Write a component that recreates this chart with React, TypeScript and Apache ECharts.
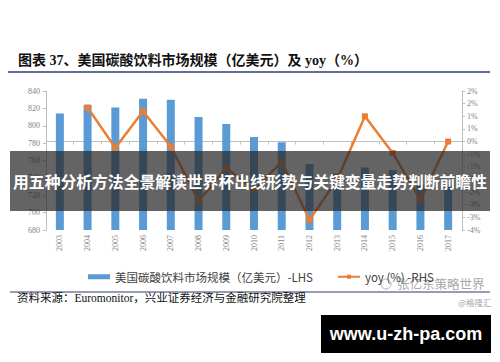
import React, { useEffect, useRef } from "react";
import * as echarts from "echarts";

const years = ["2003", "2004", "2005", "2006", "2007", "2008", "2009", "2010", "2011", "2012", "2013", "2014", "2015", "2016", "2017"];
const marketSize = [814, 824, 821, 831, 830, 810, 802, 787, 781, 756, 745, 752, 749, 732, 732];
const yoy: (number | null)[] = [null, 1.35, -0.25, 1.2, -0.2, -2.35, -1.05, -1.9, -0.8, -3.1, -1.5, 1.0, -0.45, -2.3, 0.0];

const leftTicks = { min: 680, max: 840, interval: 20 };
const rightTicks = { min: -3.5, max: 2, interval: 0.5 };

const titleText = "图表 37、美国碳酸饮料市场规模（亿美元）及 yoy（%）";
const barName = "美国碳酸饮料市场规模（亿美元）-LHS";
const lineName = "yoy (%) -RHS";
const sourceText = "资料来源：Euromonitor，兴业证券经济与金融研究院整理";
const bannerText = "用五种分析方法全景解读世界杯出线形势与关键变量走势判断前瞻性";
const siteText = "www.u-zh-pa.com";
const watermark1 = "张亿东策略世界";
const watermark2 = "@格隆汇";

const pctFmt = (v: number) => {
  const r = Math.sign(v) * Math.round(Math.abs(v) + 1e-9);
  return (r === 0 ? 0 : r) + "%";
};

export default function App() {
  const ref = useRef<HTMLDivElement>(null);
  useEffect(() => {
    if (!ref.current) return;
    const chart = echarts.init(ref.current, null, { renderer: "svg" });
    const axisLabelStyle = { color: "#7f7f7f", fontSize: 8, fontFamily: "Liberation Serif, serif" };
    const axisLineStyle = { lineStyle: { color: "#bfbfbf", width: 1 } };
    chart.setOption({
      animation: false,
      backgroundColor: "#ffffff",
      grid: { left: 46, right: 38, top: 91, bottom: 132, containLabel: false },
      legend: {
        left: 83,
        top: 266,
        itemWidth: 22,
        itemHeight: 5,
        itemGap: 24,
        textStyle: { color: "#404040", fontSize: 11.5, fontFamily: "Noto Sans CJK SC" },
        data: [
          { name: barName, icon: "rect" },
          { name: lineName },
        ],
      },
      xAxis: {
        type: "category",
        data: years,
        boundaryGap: true,
        axisLine: axisLineStyle,
        axisTick: { show: true, length: 3, lineStyle: { color: "#bfbfbf" } },
        axisLabel: { ...axisLabelStyle, rotate: 90, margin: 5, interval: 0 },
      },
      yAxis: [
        {
          type: "value",
          min: leftTicks.min,
          max: leftTicks.max,
          interval: leftTicks.interval,
          axisLine: { show: true, ...axisLineStyle },
          axisTick: { show: true, length: 3, lineStyle: { color: "#bfbfbf" } },
          splitLine: { show: false },
          axisLabel: { ...axisLabelStyle, margin: 6 },
        },
        {
          type: "value",
          position: "right",
          min: rightTicks.min,
          max: rightTicks.max,
          interval: rightTicks.interval,
          axisLine: { show: true, ...axisLineStyle },
          axisTick: { show: true, length: 3, lineStyle: { color: "#bfbfbf" } },
          splitLine: { show: false },
          axisLabel: { ...axisLabelStyle, margin: 5, formatter: pctFmt },
        },
      ],
      series: [
        {
          name: barName,
          type: "bar",
          data: marketSize,
          barWidth: 8,
          itemStyle: { color: "#5B9BD5" },
          yAxisIndex: 0,
        },
        {
          name: lineName,
          type: "line",
          data: yoy,
          yAxisIndex: 1,
          symbol: "rect",
          symbolSize: 6,
          lineStyle: { color: "#ED7D31", width: 2.5 },
          itemStyle: { color: "#ED7D31" },
        },
      ],
      graphic: [
        {
          type: "text",
          left: 18,
          top: 53,
          style: { text: titleText, fontSize: 14, fontWeight: "bold", fill: "#111111", fontFamily: "Liberation Serif, Noto Sans CJK SC" },
        },
        { type: "line", shape: { x1: 8, y1: 72, x2: 490, y2: 72 }, style: { stroke: "#2f3b73", lineWidth: 1.5 } },
        { type: "line", shape: { x1: 10, y1: 292, x2: 490, y2: 292 }, style: { stroke: "#2f3b73", lineWidth: 1.2 } },
        {
          type: "text",
          left: 17,
          top: 292,
          style: { text: sourceText, fontSize: 11.5, fill: "#111111", fontFamily: "Liberation Serif, Noto Sans CJK SC" },
        },
        { type: "circle", shape: { cx: 386, cy: 284, r: 5 }, style: { fill: "none", stroke: "#b0b0b0", lineWidth: 1 } },
        {
          type: "text",
          left: 397,
          top: 277,
          style: { text: watermark1, fontSize: 12.5, fill: "#a8a8a8", fontFamily: "Noto Sans CJK SC" },
        },
        {
          type: "text",
          left: 458,
          top: 298,
          style: { text: watermark2, fontSize: 8.5, fill: "#a8a8a8", fontFamily: "Noto Sans CJK SC" },
        },
        {
          type: "rect",
          z: 100,
          shape: { x: 10, y: 151, width: 480, height: 60 },
          style: { fill: "rgba(40,40,40,0.72)" },
        },
        {
          type: "text",
          z: 101,
          x: 250,
          y: 181,
          style: {
            text: bannerText,
            fontSize: 15.8,
            fontWeight: "bold",
            fill: "#ffffff",
            align: "center",
            verticalAlign: "middle",
            fontFamily: "Noto Sans CJK SC",
          },
        },
        {
          type: "rect",
          z: 100,
          shape: { x: 321, y: 315, width: 170, height: 38 },
          style: { fill: "#000000" },
        },
        {
          type: "text",
          z: 101,
          x: 406,
          y: 334,
          style: {
            text: siteText,
            fontSize: 18,
            fontWeight: "bold",
            fill: "#ffffff",
            align: "center",
            verticalAlign: "middle",
            fontFamily: "Liberation Sans, Arial, sans-serif",
          },
        },
      ],
    });
    return () => chart.dispose();
  }, []);
  return <div ref={ref} style={{ position: "fixed", left: 0, top: 0, width: 500, height: 362 }} />;
}
